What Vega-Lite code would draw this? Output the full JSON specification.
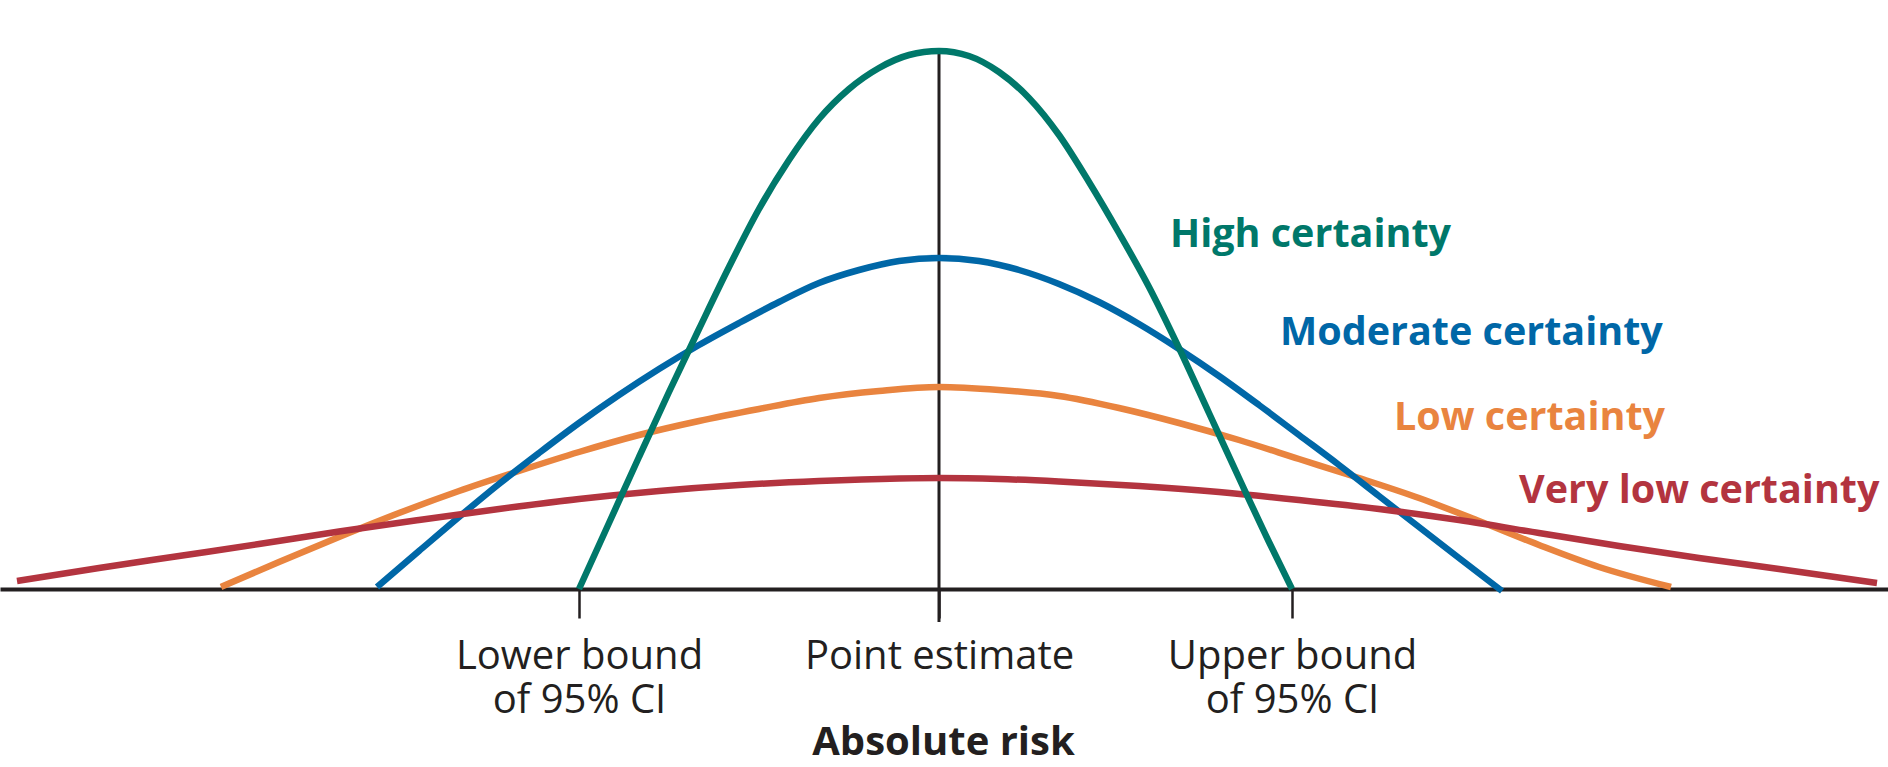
{
  "$schema": "https://vega.github.io/schema/vega-lite/v6.json",
  "width": 1888,
  "height": 589,
  "autosize": {"type": "none"},
  "padding": {"left": 0, "top": 0, "right": 0, "bottom": 178},
  "background": "white",
  "config": {"view": {"stroke": null}},
  "datasets": {
    "center": [{"x": 0, "y": 5.38, "y2": -0.33}],
    "curves": [
      {"series": "Low certainty", "x": -7.18, "y": 0.02},
      {"series": "Low certainty", "x": -6.6, "y": 0.27},
      {"series": "Low certainty", "x": -6.0, "y": 0.52},
      {"series": "Low certainty", "x": -5.4, "y": 0.76},
      {"series": "Low certainty", "x": -4.8, "y": 0.98},
      {"series": "Low certainty", "x": -4.2, "y": 1.18},
      {"series": "Low certainty", "x": -3.6, "y": 1.37},
      {"series": "Low certainty", "x": -3.0, "y": 1.54},
      {"series": "Low certainty", "x": -2.4, "y": 1.68},
      {"series": "Low certainty", "x": -1.8, "y": 1.8},
      {"series": "Low certainty", "x": -1.2, "y": 1.91},
      {"series": "Low certainty", "x": -0.6, "y": 1.98},
      {"series": "Low certainty", "x": 0, "y": 2.02},
      {"series": "Low certainty", "x": 0.6, "y": 1.99},
      {"series": "Low certainty", "x": 1.2, "y": 1.93},
      {"series": "Low certainty", "x": 1.8, "y": 1.81},
      {"series": "Low certainty", "x": 2.4, "y": 1.66},
      {"series": "Low certainty", "x": 3.0, "y": 1.49},
      {"series": "Low certainty", "x": 3.6, "y": 1.3},
      {"series": "Low certainty", "x": 4.2, "y": 1.11},
      {"series": "Low certainty", "x": 4.8, "y": 0.91},
      {"series": "Low certainty", "x": 5.4, "y": 0.68},
      {"series": "Low certainty", "x": 6.0, "y": 0.44},
      {"series": "Low certainty", "x": 6.6, "y": 0.22},
      {"series": "Low certainty", "x": 7.32, "y": 0.02},
      {"series": "Moderate certainty", "x": -5.62, "y": 0.02},
      {"series": "Moderate certainty", "x": -5.2, "y": 0.38},
      {"series": "Moderate certainty", "x": -4.8, "y": 0.72},
      {"series": "Moderate certainty", "x": -4.4, "y": 1.05},
      {"series": "Moderate certainty", "x": -4.0, "y": 1.36},
      {"series": "Moderate certainty", "x": -3.6, "y": 1.66},
      {"series": "Moderate certainty", "x": -3.2, "y": 1.94},
      {"series": "Moderate certainty", "x": -2.8, "y": 2.2},
      {"series": "Moderate certainty", "x": -2.4, "y": 2.44},
      {"series": "Moderate certainty", "x": -2.0, "y": 2.66},
      {"series": "Moderate certainty", "x": -1.6, "y": 2.87},
      {"series": "Moderate certainty", "x": -1.2, "y": 3.06},
      {"series": "Moderate certainty", "x": -0.8, "y": 3.19},
      {"series": "Moderate certainty", "x": -0.4, "y": 3.28},
      {"series": "Moderate certainty", "x": 0, "y": 3.31},
      {"series": "Moderate certainty", "x": 0.4, "y": 3.28},
      {"series": "Moderate certainty", "x": 0.8, "y": 3.19},
      {"series": "Moderate certainty", "x": 1.2, "y": 3.05},
      {"series": "Moderate certainty", "x": 1.6, "y": 2.87},
      {"series": "Moderate certainty", "x": 2.0, "y": 2.65},
      {"series": "Moderate certainty", "x": 2.4, "y": 2.4},
      {"series": "Moderate certainty", "x": 2.8, "y": 2.13},
      {"series": "Moderate certainty", "x": 3.2, "y": 1.84},
      {"series": "Moderate certainty", "x": 3.6, "y": 1.54},
      {"series": "Moderate certainty", "x": 4.0, "y": 1.24},
      {"series": "Moderate certainty", "x": 4.4, "y": 0.93},
      {"series": "Moderate certainty", "x": 4.8, "y": 0.62},
      {"series": "Moderate certainty", "x": 5.2, "y": 0.31},
      {"series": "Moderate certainty", "x": 5.63, "y": -0.02},
      {"series": "Very low certainty", "x": -9.22, "y": 0.08},
      {"series": "Very low certainty", "x": -8.4, "y": 0.21},
      {"series": "Very low certainty", "x": -7.6, "y": 0.33},
      {"series": "Very low certainty", "x": -6.8, "y": 0.45},
      {"series": "Very low certainty", "x": -6.0, "y": 0.575},
      {"series": "Very low certainty", "x": -5.2, "y": 0.69},
      {"series": "Very low certainty", "x": -4.4, "y": 0.8},
      {"series": "Very low certainty", "x": -3.6, "y": 0.9},
      {"series": "Very low certainty", "x": -2.8, "y": 0.98},
      {"series": "Very low certainty", "x": -2.0, "y": 1.04},
      {"series": "Very low certainty", "x": -1.2, "y": 1.08},
      {"series": "Very low certainty", "x": -0.4, "y": 1.105},
      {"series": "Very low certainty", "x": 0, "y": 1.11},
      {"series": "Very low certainty", "x": 0.6, "y": 1.1},
      {"series": "Very low certainty", "x": 1.2, "y": 1.075},
      {"series": "Very low certainty", "x": 2.0, "y": 1.03},
      {"series": "Very low certainty", "x": 2.8, "y": 0.97},
      {"series": "Very low certainty", "x": 3.6, "y": 0.89},
      {"series": "Very low certainty", "x": 4.4, "y": 0.8},
      {"series": "Very low certainty", "x": 5.2, "y": 0.69},
      {"series": "Very low certainty", "x": 6.0, "y": 0.56},
      {"series": "Very low certainty", "x": 6.8, "y": 0.43},
      {"series": "Very low certainty", "x": 7.6, "y": 0.31},
      {"series": "Very low certainty", "x": 8.4, "y": 0.2},
      {"series": "Very low certainty", "x": 9.38, "y": 0.06},
      {"series": "High certainty", "x": -3.6, "y": 0},
      {"series": "High certainty", "x": -3.3, "y": 0.66},
      {"series": "High certainty", "x": -3.0, "y": 1.32},
      {"series": "High certainty", "x": -2.7, "y": 1.97},
      {"series": "High certainty", "x": -2.4, "y": 2.6},
      {"series": "High certainty", "x": -2.1, "y": 3.22},
      {"series": "High certainty", "x": -1.8, "y": 3.8},
      {"series": "High certainty", "x": -1.5, "y": 4.29},
      {"series": "High certainty", "x": -1.2, "y": 4.7},
      {"series": "High certainty", "x": -0.9, "y": 5.0},
      {"series": "High certainty", "x": -0.6, "y": 5.21},
      {"series": "High certainty", "x": -0.3, "y": 5.34},
      {"series": "High certainty", "x": 0, "y": 5.38},
      {"series": "High certainty", "x": 0.3, "y": 5.33},
      {"series": "High certainty", "x": 0.6, "y": 5.17},
      {"series": "High certainty", "x": 0.9, "y": 4.91},
      {"series": "High certainty", "x": 1.2, "y": 4.54},
      {"series": "High certainty", "x": 1.5, "y": 4.07},
      {"series": "High certainty", "x": 1.8, "y": 3.56},
      {"series": "High certainty", "x": 2.1, "y": 3.02},
      {"series": "High certainty", "x": 2.4, "y": 2.41},
      {"series": "High certainty", "x": 2.7, "y": 1.76},
      {"series": "High certainty", "x": 3.0, "y": 1.11},
      {"series": "High certainty", "x": 3.3, "y": 0.47},
      {"series": "High certainty", "x": 3.53, "y": 0}
    ],
    "labels": [
      {"series": "High certainty", "x": 2.31, "y": 3.42},
      {"series": "Moderate certainty", "x": 3.41, "y": 2.44},
      {"series": "Low certainty", "x": 4.55, "y": 1.59},
      {"series": "Very low certainty", "x": 5.8, "y": 0.86}
    ]
  },
  "layer": [
    {
      "data": {"name": "center"},
      "mark": {"type": "rule", "color": "#231f20", "strokeWidth": 3},
      "encoding": {
        "x": {
          "field": "x",
          "type": "quantitative",
          "scale": {"domain": [-9.39, 9.49], "nice": false, "zero": false},
          "axis": {
            "values": [-3.6, 0, 3.53],
            "title": "Absolute risk",
            "grid": false,
            "domainColor": "#231f20",
            "domainWidth": 4,
            "tickColor": "#231f20",
            "tickWidth": 2.5,
            "tickSize": 29,
            "labelFont": "Open Sans",
            "labelFontSize": 40,
            "labelColor": "#231f20",
            "labelBaseline": "alphabetic",
            "labelPadding": 50,
            "labelLineHeight": 44,
            "labelLimit": 0,
            "labelOverlap": false,
            "labelBound": false,
            "labelFlush": false,
            "labelExpr": "datum.value < -1 ? ['Lower bound', 'of 95% CI'] : datum.value > 1 ? ['Upper bound', 'of 95% CI'] : 'Point estimate'",
            "titleFont": "Open Sans",
            "titleFontSize": 40,
            "titleFontWeight": "bold",
            "titleColor": "#231f20",
            "titleX": 943,
            "titleY": 165,
            "titleAlign": "center",
            "titleBaseline": "alphabetic"
          }
        },
        "y": {
          "field": "y",
          "type": "quantitative",
          "scale": {"domain": [0, 5.89], "nice": false, "zero": false},
          "axis": null
        },
        "y2": {"field": "y2"}
      }
    },
    {
      "data": {"name": "curves"},
      "mark": {"type": "line", "strokeWidth": 6.5, "interpolate": "monotone"},
      "encoding": {
        "x": {"field": "x", "type": "quantitative"},
        "y": {"field": "y", "type": "quantitative"},
        "color": {
          "field": "series",
          "type": "nominal",
          "scale": {
            "domain": ["High certainty", "Moderate certainty", "Low certainty", "Very low certainty"],
            "range": ["#00786A", "#0067A7", "#E9843F", "#B3343F"]
          },
          "legend": null
        }
      }
    },
    {
      "data": {"name": "labels"},
      "mark": {"type": "text", "align": "left", "baseline": "alphabetic", "font": "Open Sans", "fontSize": 39.5, "fontWeight": "bold"},
      "encoding": {
        "x": {"field": "x", "type": "quantitative"},
        "y": {"field": "y", "type": "quantitative"},
        "text": {"field": "series"},
        "color": {"field": "series", "type": "nominal", "legend": null}
      }
    }
  ]
}
